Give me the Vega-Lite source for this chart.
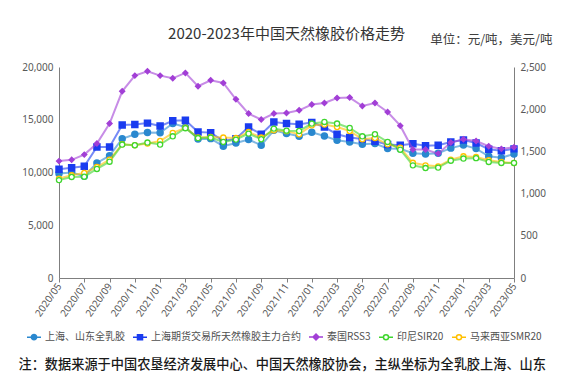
{
  "$schema": "https://vega.github.io/schema/vega-lite/v6.json",
  "width": 455,
  "height": 211,
  "autosize": {"type": "none"},
  "padding": {"left": 59, "top": 67, "right": 52, "bottom": 103},
  "background": "white",
  "config": {
    "view": {"stroke": null},
    "font": "Noto Sans CJK SC",
    "axis": {"labelFont": "Noto Sans", "labelFontSize": 10, "labelColor": "#595959", "domainColor": "#7f7f7f", "tickColor": "#7f7f7f", "grid": false},
    "legend": {
      "orient": "none", "legendX": -33, "legendY": 262, "direction": "horizontal", "columns": 5,
      "padding": 0, "labelFont": "Noto Sans CJK SC", "labelFontSize": 10, "labelColor": "#505050",
      "symbolSize": 196, "symbolStrokeWidth": 1.5, "columnPadding": 5, "labelOffset": 3
    }
  },
  "title": {"text": "2020-2023年中国天然橡胶价格走势", "font": "Noto Sans CJK SC", "fontSize": 15, "fontWeight": "normal", "color": "#333333", "anchor": "middle", "frame": "group", "offset": -9},
  "datasets": {
    "rubber": [
      {"month": "2020/05", "qrj": 9900, "shfe": 10300, "rss3": 1385, "sir20": 1160, "smr20": 1178},
      {"month": "2020/06", "qrj": 10000, "shfe": 10450, "rss3": 1400, "sir20": 1197, "smr20": 1217},
      {"month": "2020/07", "qrj": 9640, "shfe": 10590, "rss3": 1462, "sir20": 1200, "smr20": 1244},
      {"month": "2020/08", "qrj": 10900, "shfe": 12420, "rss3": 1593, "sir20": 1292, "smr20": 1315},
      {"month": "2020/09", "qrj": 11600, "shfe": 12420, "rss3": 1830, "sir20": 1378, "smr20": 1403},
      {"month": "2020/10", "qrj": 13200, "shfe": 14510, "rss3": 2212, "sir20": 1581, "smr20": 1584},
      {"month": "2020/11", "qrj": 13620, "shfe": 14560, "rss3": 2398, "sir20": 1573, "smr20": 1573},
      {"month": "2020/12", "qrj": 13800, "shfe": 14680, "rss3": 2450, "sir20": 1605, "smr20": 1593},
      {"month": "2021/01", "qrj": 13760, "shfe": 14400, "rss3": 2398, "sir20": 1581, "smr20": 1623},
      {"month": "2021/02", "qrj": 14640, "shfe": 14900, "rss3": 2366, "sir20": 1679, "smr20": 1720},
      {"month": "2021/03", "qrj": 14320, "shfe": 14950, "rss3": 2430, "sir20": 1775, "smr20": 1780},
      {"month": "2021/04", "qrj": 13170, "shfe": 13840, "rss3": 2272, "sir20": 1658, "smr20": 1664},
      {"month": "2021/05", "qrj": 13210, "shfe": 13780, "rss3": 2343, "sir20": 1664, "smr20": 1671},
      {"month": "2021/06", "qrj": 12490, "shfe": 12990, "rss3": 2311, "sir20": 1612, "smr20": 1664},
      {"month": "2021/07", "qrj": 12800, "shfe": 13210, "rss3": 2118, "sir20": 1640, "smr20": 1659},
      {"month": "2021/08", "qrj": 13120, "shfe": 14310, "rss3": 1948, "sir20": 1711, "smr20": 1730},
      {"month": "2021/09", "qrj": 12580, "shfe": 13620, "rss3": 1877, "sir20": 1644, "smr20": 1664},
      {"month": "2021/10", "qrj": 14000, "shfe": 14790, "rss3": 1948, "sir20": 1770, "smr20": 1750},
      {"month": "2021/11", "qrj": 13700, "shfe": 14640, "rss3": 1955, "sir20": 1746, "smr20": 1740},
      {"month": "2021/12", "qrj": 13430, "shfe": 14570, "rss3": 1987, "sir20": 1742, "smr20": 1703},
      {"month": "2022/01", "qrj": 13810, "shfe": 14730, "rss3": 2055, "sir20": 1830, "smr20": 1809},
      {"month": "2022/02", "qrj": 13460, "shfe": 14310, "rss3": 2074, "sir20": 1849, "smr20": 1818},
      {"month": "2022/03", "qrj": 13050, "shfe": 13620, "rss3": 2133, "sir20": 1830, "smr20": 1789},
      {"month": "2022/04", "qrj": 12890, "shfe": 13310, "rss3": 2138, "sir20": 1778, "smr20": 1742},
      {"month": "2022/05", "qrj": 12670, "shfe": 13180, "rss3": 2038, "sir20": 1679, "smr20": 1644},
      {"month": "2022/06", "qrj": 12740, "shfe": 12960, "rss3": 2074, "sir20": 1703, "smr20": 1659},
      {"month": "2022/07", "qrj": 12270, "shfe": 12650, "rss3": 1967, "sir20": 1612, "smr20": 1584},
      {"month": "2022/08", "qrj": 12250, "shfe": 12580, "rss3": 1805, "sir20": 1520, "smr20": 1545},
      {"month": "2022/09", "qrj": 11820, "shfe": 12720, "rss3": 1522, "sir20": 1335, "smr20": 1365},
      {"month": "2022/10", "qrj": 11760, "shfe": 12530, "rss3": 1522, "sir20": 1303, "smr20": 1335},
      {"month": "2022/11", "qrj": 11820, "shfe": 12580, "rss3": 1474, "sir20": 1308, "smr20": 1323},
      {"month": "2022/12", "qrj": 12310, "shfe": 12890, "rss3": 1605, "sir20": 1390, "smr20": 1403},
      {"month": "2023/01", "qrj": 12610, "shfe": 13070, "rss3": 1644, "sir20": 1415, "smr20": 1442},
      {"month": "2023/02", "qrj": 12270, "shfe": 12790, "rss3": 1623, "sir20": 1420, "smr20": 1434},
      {"month": "2023/03", "qrj": 11540, "shfe": 12200, "rss3": 1561, "sir20": 1375, "smr20": 1395},
      {"month": "2023/04", "qrj": 11400, "shfe": 12060, "rss3": 1530, "sir20": 1363, "smr20": 1375},
      {"month": "2023/05", "qrj": 11760, "shfe": 12240, "rss3": 1550, "sir20": 1363, "smr20": 1363}
    ]
  },
  "encoding": {
    "x": {
      "field": "month", "type": "ordinal",
      "scale": {"type": "point", "padding": 0},
      "axis": {
        "values": ["2020/05","2020/07","2020/09","2020/11","2021/01","2021/03","2021/05","2021/07","2021/09","2021/11","2022/01","2022/03","2022/05","2022/07","2022/09","2022/11","2023/01","2023/03","2023/05"],
        "labelAngle": -55, "tickSize": 4, "labelPadding": 2,
        "title": "注：数据来源于中国农垦经济发展中心、中国天然橡胶协会，主纵坐标为全乳胶上海、山东",
        "titleFont": "Noto Sans CJK SC", "titleFontSize": 13.2, "titleFontWeight": 500, "titleColor": "#1a1a1a",
        "titleX": -41, "titleY": 86, "titleAlign": "left", "titleAnchor": "start", "titleBaseline": "middle"
      }
    }
  },
  "layer": [
    {
      "data": {"name": "rubber"},
      "transform": [{"fold": ["qrj", "shfe"], "as": ["series", "value"]}],
      "encoding": {
        "y": {
          "field": "value", "type": "quantitative",
          "scale": {"domain": [0, 20000], "nice": false},
          "axis": {"values": [0, 5000, 10000, 15000, 20000], "format": ",.0f", "title": null, "ticks": false, "labelPadding": 6}
        },
        "stroke": {"field": "series", "type": "nominal", "scale": {"domain": ["qrj", "shfe"], "range": ["#2a88cf", "#1a3cf0"]}, "legend": null}
      },
      "layer": [
        {"mark": {"type": "line", "strokeWidth": 2, "opacity": 0.6}},
        {"mark": {"type": "point", "filled": true, "opacity": 1, "size": 30},
         "encoding": {
           "fill": {"field": "series", "type": "nominal", "scale": {"domain": ["qrj", "shfe"], "range": ["#2a88cf", "#1a3cf0"]}, "legend": null},
           "shape": {"field": "series", "type": "nominal", "scale": {"domain": ["qrj", "shfe"], "range": ["circle", "square"]}, "legend": null}
         }}
      ]
    },
    {
      "data": {"name": "rubber"},
      "transform": [{"fold": ["smr20", "sir20", "rss3"], "as": ["series", "value"]}],
      "encoding": {
        "y": {
          "field": "value", "type": "quantitative",
          "scale": {"domain": [0, 2500], "nice": false},
          "axis": {
            "orient": "right", "values": [0, 500, 1000, 1500, 2000, 2500], "format": ",.0f", "ticks": false, "labelPadding": 6,
            "title": "单位：元/吨，美元/吨", "titleFont": "Noto Sans CJK SC", "titleFontSize": 12.5, "titleFontWeight": "normal", "titleColor": "#404040",
            "titleAngle": 0, "titleX": 38, "titleY": -28, "titleAlign": "right", "titleBaseline": "middle"
          }
        },
        "stroke": {"field": "series", "type": "nominal", "scale": {"domain": ["smr20", "sir20", "rss3"], "range": ["#ffc000", "#3fd62e", "#a23fd6"]}, "legend": null}
      },
      "layer": [
        {"mark": {"type": "line", "strokeWidth": 2, "opacity": 0.6}},
        {"mark": {"type": "point", "opacity": 1, "size": 26, "strokeWidth": 1.3},
         "encoding": {
           "fill": {"field": "series", "type": "nominal", "scale": {"domain": ["smr20", "sir20", "rss3"], "range": ["#ffffff", "#ffffff", "#a23fd6"]}, "legend": null},
           "shape": {"field": "series", "type": "nominal", "scale": {"domain": ["smr20", "sir20", "rss3"], "range": ["circle", "circle", "diamond"]}, "legend": null}
         }}
      ]
    },
    {
      "data": {"values": []},
      "mark": {"type": "point", "strokeWidth": 1.5, "opacity": 1},
      "encoding": {
        "shape": {"field": "series", "type": "nominal", "title": null,
          "scale": {"domain": ["上海、山东全乳胶", "上海期货交易所天然橡胶主力合约", "泰国RSS3", "印尼SIR20", "马来西亚SMR20"],
            "range": [
              "M-1,0H-0.45M0.45,0H1M0.38,0A0.38,0.38,0,1,1,-0.38,0A0.38,0.38,0,1,1,0.38,0Z",
              "M-1,0H-0.42M0.42,0H1M-0.36,-0.36H0.36V0.36H-0.36Z",
              "M-1,0H-0.45M0.45,0H1M0,-0.42L0.42,0L0,0.42L-0.42,0Z",
              "M-1,0H-0.45M0.45,0H1M0.36,0A0.36,0.36,0,1,1,-0.36,0A0.36,0.36,0,1,1,0.36,0Z",
              "M-1,0H-0.45M0.45,0H1M0.36,0A0.36,0.36,0,1,1,-0.36,0A0.36,0.36,0,1,1,0.36,0Z"
            ]}},
        "stroke": {"field": "series", "type": "nominal", "title": null,
          "scale": {"domain": ["上海、山东全乳胶", "上海期货交易所天然橡胶主力合约", "泰国RSS3", "印尼SIR20", "马来西亚SMR20"],
            "range": ["#2a88cf", "#1a3cf0", "#a23fd6", "#3fd62e", "#ffc000"]}},
        "fill": {"field": "series", "type": "nominal", "title": null,
          "scale": {"domain": ["上海、山东全乳胶", "上海期货交易所天然橡胶主力合约", "泰国RSS3", "印尼SIR20", "马来西亚SMR20"],
            "range": ["#2a88cf", "#1a3cf0", "#a23fd6", "#ffffff", "#ffffff"]}}
      }
    }
  ],
  "resolve": {"scale": {"y": "independent", "stroke": "independent", "fill": "independent", "shape": "independent"}}
}
